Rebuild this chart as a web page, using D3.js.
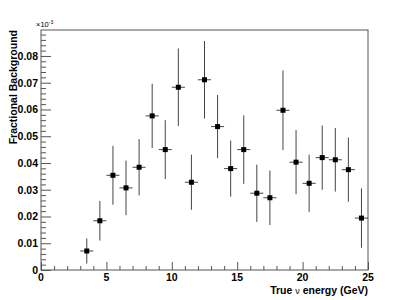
<!DOCTYPE html>
<html>
<head>
<meta charset="utf-8">
<script src="https://cdn.jsdelivr.net/npm/d3@7"></script>
<style>
  body { margin: 0; background: #fff; }
  svg { display: block; }
  text { font-family: "Liberation Sans", Arial, sans-serif; font-weight: bold; fill: #000; }
</style>
</head>
<body>
<div id="chart"></div>
<script>
// bin centres (GeV)
const energy = [3.5, 4.5, 5.5, 6.5, 7.5, 8.5, 9.5, 10.5, 11.5, 12.5, 13.5,
  14.5, 15.5, 16.5, 17.5, 18.5, 19.5, 20.5, 21.5, 22.5, 23.5, 24.5];
// fractional background (as labelled on the axis, x10^-3)
const background = [0.0071, 0.0184, 0.0354, 0.0307, 0.0384, 0.0576, 0.0450, 0.0683,
  0.0328, 0.0711, 0.0536, 0.0379, 0.0450, 0.0287, 0.0270, 0.0597, 0.0403, 0.0324,
  0.0420, 0.0412, 0.0375, 0.0194];
const errors = [0.0047, 0.0074, 0.0110, 0.0102, 0.0105, 0.0120, 0.0110, 0.0145,
  0.0103, 0.0145, 0.0118, 0.0105, 0.0128, 0.0107, 0.0102, 0.0149, 0.0120, 0.0107,
  0.0120, 0.0119, 0.0120, 0.0111];
const binWidth = 1;
const xTicks = [0, 5, 10, 15, 20, 25];
const yTicks = [0, 0.01, 0.02, 0.03, 0.04, 0.05, 0.06, 0.07, 0.08];

const width = 409, height = 300;
const margin = {top: 30, right: 41, bottom: 30, left: 41};

const svg = d3.select('#chart').append('svg')
  .attr('width', width)
  .attr('height', height);

const x = d3.scaleLinear().domain([0, 25]).range([margin.left, width - margin.right]);
const y = d3.scaleLinear().domain([0, 0.0897]).range([height - margin.bottom, margin.top]);

const data = energy.map((e, i) => ({e: e, v: background[i], err: errors[i]}));

// frame
svg.append('rect')
  .attr('x', x(0)).attr('y', y.range()[1])
  .attr('width', x(25) - x(0)).attr('height', y(0) - y.range()[1])
  .attr('fill', 'none').attr('stroke', '#555').attr('stroke-width', 1);

// x axis, ticks pointing into the frame
const xAxis = svg.append('g')
  .attr('transform', `translate(0,${y(0)})`)
  .call(d3.axisTop(x).tickValues(d3.range(0, 26, 1)).tickSize(4).tickFormat(''));
xAxis.selectAll('.tick line')
  .attr('y2', d => xTicks.includes(d) ? -8 : -4);
xAxis.select('.domain').remove();
svg.append('g').selectAll('text')
  .data(xTicks)
  .enter().append('text')
    .attr('x', d => x(d))
    .attr('y', y(0) + 11)
    .attr('text-anchor', 'middle')
    .style('font-size', '10.5px')
    .text(d => d);

// y axis
const yAxis = svg.append('g')
  .attr('transform', `translate(${x(0)},0)`)
  .call(d3.axisRight(y).tickValues(d3.range(0, 0.0897, 0.002)).tickSize(5).tickFormat(''));
yAxis.selectAll('.tick line')
  .attr('x2', (d, i) => i % 5 === 0 ? 10 : 5);
yAxis.select('.domain').remove();
svg.append('g').selectAll('text')
  .data(yTicks)
  .enter().append('text')
    .attr('x', x(0) - 3)
    .attr('y', d => y(d) + 4)
    .attr('text-anchor', 'end')
    .style('font-size', '10.5px')
    .text(d => d === 0 ? '0' : d.toFixed(2));

svg.selectAll('.tick line').attr('stroke', '#555');

// exponent label
const mult = svg.append('text')
  .attr('x', 36)
  .attr('y', y.range()[1] - 3)
  .style('font-size', '7.5px')
  .style('font-weight', 'normal');
mult.append('tspan').text('\u00d710');
mult.append('tspan').attr('dy', -3).style('font-size', '5px').text('-3');

// axis titles
svg.append('text')
  .attr('transform', `translate(17,${y.range()[1]}) rotate(-90)`)
  .attr('text-anchor', 'end')
  .style('font-size', '10.5px')
  .text('Fractional Background');

const xTitle = svg.append('text')
  .attr('x', x(25))
  .attr('y', 294)
  .attr('text-anchor', 'end')
  .style('font-size', '10.5px');
xTitle.append('tspan').text('True ');
xTitle.append('tspan').style('font-weight', 'normal').style('font-size', '9px').text('\u03bd');
xTitle.append('tspan').text(' energy (GeV)');

// error bars
const pts = svg.append('g');
pts.selectAll('.ex')
  .data(data)
  .enter().append('line')
    .attr('x1', d => x(d.e - binWidth / 2))
    .attr('x2', d => x(d.e + binWidth / 2))
    .attr('y1', d => y(d.v))
    .attr('y2', d => y(d.v))
    .attr('stroke', '#444');
pts.selectAll('.ey')
  .data(data)
  .enter().append('line')
    .attr('x1', d => x(d.e))
    .attr('x2', d => x(d.e))
    .attr('y1', d => y(d.v - d.err))
    .attr('y2', d => y(d.v + d.err))
    .attr('stroke', '#444');

// markers
pts.selectAll('rect')
  .data(data)
  .enter().append('rect')
    .attr('x', d => x(d.e) - 2.5)
    .attr('y', d => y(d.v) - 2.5)
    .attr('width', 5)
    .attr('height', 5)
    .attr('fill', '#000');
</script>
</body>
</html>
